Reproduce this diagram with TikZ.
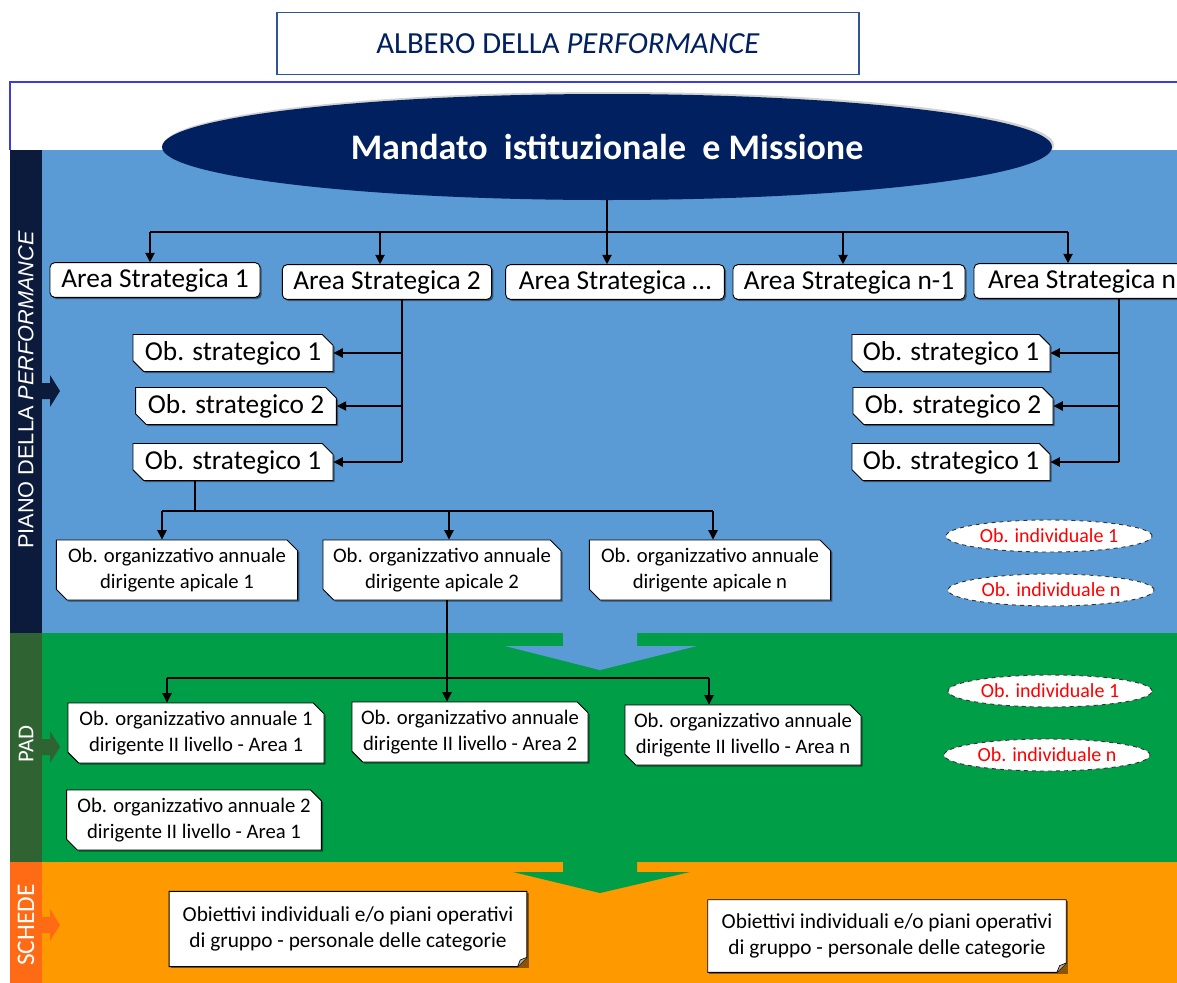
\documentclass[tikz,border=0pt]{standalone}
\usepackage{fontspec}
\setmainfont{Carlito}
\newfontfamily\sidefont{Liberation Sans}
\usetikzlibrary{shapes.misc,shapes.geometric,shadows,arrows.meta}
\definecolor{bandblue}{HTML}{5B9BD5}
\definecolor{bandgreen}{HTML}{009E47}
\definecolor{bandorange}{HTML}{FF9900}
\definecolor{sidenavy}{HTML}{0C1A3C}
\definecolor{sidegreen}{HTML}{2F6432}
\definecolor{sideorange}{HTML}{FF6A14}
\definecolor{navy}{HTML}{002060}
\definecolor{titleborder}{HTML}{2F5597}
\definecolor{framecol}{HTML}{3C3CE0}
\tikzset{
  shad/.style={drop shadow={shadow xshift=1.3pt,shadow yshift=-1.3pt,fill=black,opacity=0.45}},
  areabox/.style={draw=black,fill=white,rounded corners=3.5pt,line width=0.7pt,
    font=\fontsize{20.5}{23}\selectfont,minimum height=26pt,inner xsep=1pt,inner ysep=1pt,shad},
  obbox/.style={chamfered rectangle,chamfered rectangle corners={north east,south west},
    chamfered rectangle xsep=4pt,chamfered rectangle ysep=4pt,
    draw=black,fill=white,line width=0.7pt,font=\fontsize{20.5}{23}\selectfont,
    minimum height=27pt,inner xsep=1pt,inner ysep=1pt,shad},
  orgbox/.style={chamfered rectangle,chamfered rectangle corners={north east,south west},
    chamfered rectangle xsep=4pt,chamfered rectangle ysep=4pt,
    draw=black,fill=white,line width=0.7pt,font=\fontsize{15.5}{19.5}\selectfont,
    align=center,minimum height=45pt,inner xsep=1pt,inner ysep=1pt,shad},
  indiv/.style={ellipse,draw=black!80,dashed,fill=white,line width=0.7pt,
    text=red,font=\fontsize{15}{17}\selectfont,minimum height=24pt,inner sep=0pt},
  schedabox/.style={inner sep=0pt},
  schedatext/.style={align=center,font=\fontsize{16}{20}\selectfont},
  conn/.style={draw=black,line width=0.9pt},
  arr/.style={conn,-{Triangle[length=7pt,width=7pt]}},
  sidetxt/.style={rotate=90,text=white,font=\fontsize{17}{19}\selectfont}
}
\begin{document}
\begin{tikzpicture}[x=0.75pt,y=-0.75pt]
\clip (0,0) rectangle (1177,982);
\fill[white] (0,0) rectangle (1177,982);
% title
\node[draw=titleborder,line width=0.8pt,fill=white,minimum width=436.5pt,minimum height=47pt,
  text=navy,font=\fontsize{23}{26}\selectfont] (title) at (568,43.5) {ALBERO DELLA \textit{PERFORMANCE}};
% frame
\draw[framecol,line width=1pt] (10,150) -- (10,82) -- (1180,82);
% bands
\fill[bandblue] (42,150) rectangle (1180,633);
\fill[sidenavy] (10,150) rectangle (42,633);
\fill[bandgreen] (42,633) rectangle (1180,862);
\fill[sidegreen] (10,633) rectangle (42,862);
\fill[bandorange] (42,862) rectangle (1180,985);
\fill[sideorange] (10,862) rectangle (42,985);
% big chevrons
\fill[bandblue] (563,630) -- (637,630) -- (637,646) -- (697,646) -- (600,670) -- (505,646) -- (563,646) -- cycle;
\fill[bandgreen] (563,859) -- (637,859) -- (637,872) -- (690,872) -- (600,893) -- (513,872) -- (563,872) -- cycle;
% side arrows
\fill[sidenavy] (42,383) -- (50,383) -- (50,375) -- (60,391) -- (50,407) -- (50,399) -- (42,399) -- cycle;
\fill[sidegreen] (42,739) -- (50,739) -- (50,731) -- (60,747) -- (50,763) -- (50,755) -- (42,755) -- cycle;
\fill[sideorange] (42,917) -- (50,917) -- (50,909) -- (60,925) -- (50,941) -- (50,933) -- (42,933) -- cycle;
% side labels
\node[sidetxt,font=\sidefont\fontsize{16.3}{18}\selectfont] (lpiano) at (26,390) {PIANO DELLA \textit{PERFORMANCE}};
\node[sidetxt] (lpad) at (26,744) {PAD};
\node[sidetxt,font=\fontsize{19}{21}\selectfont] (lschede) at (26,925) {SCHEDE};
% ellipse
\node[ellipse,fill=navy,minimum width=667.5pt,minimum height=79.5pt,text=white,
  font=\bfseries\fontsize{27}{30}\selectfont,
  drop shadow={shadow xshift=1.5pt,shadow yshift=1.5pt,fill=gray,opacity=0.35}] (mand) at (607,147)
  {Mandato\ \ istituzionale\ \ e Missione};
% areas
\node[areabox,minimum width=157.5pt] (a1) at (155,280) {Area Strategica 1};
\node[areabox,minimum width=157pt] (a2) at (387,282) {Area Strategica 2};
\node[areabox,minimum width=164pt] (a3) at (615,282) {Area Strategica \dots};
\node[areabox,minimum width=174pt] (a4) at (849,282) {Area Strategica n-1};
\node[areabox,minimum width=162pt] (a5) at (1082,281) {Area Strategica n};
\coordinate (b1) at (150,232);
\coordinate (b2) at (380,232);
\coordinate (b3) at (607,232);
\coordinate (b4) at (843,232);
\coordinate (b5) at (1068,232);
\draw[conn] (mand.south) -- (b3);
\draw[conn] (b1) -- (b5);
\draw[arr] (b1) -- (b1 |- a1.north);
\draw[arr] (b2) -- (b2 |- a2.north);
\draw[arr] (b3) -- (b3 |- a3.north);
\draw[arr] (b4) -- (b4 |- a4.north);
\draw[arr] (b5) -- (b5 |- a5.north);
% strategic objectives left
\node[obbox,minimum width=150pt] (l1) at (233,353) {Ob. strategico 1};
\node[obbox,minimum width=150.5pt] (l2) at (236,406) {Ob. strategico 2};
\node[obbox,minimum width=150pt] (l3) at (233,462) {Ob. strategico 1};
\coordinate (lv) at (402,462);
\draw[conn] (a2.south -| lv) -- (lv);
\draw[arr] (lv |- l1) -- (l1.east);
\draw[arr] (lv |- l2) -- (l2.east);
\draw[arr] (lv) -- (l3.east);
% strategic objectives right
\node[obbox,minimum width=148.5pt] (r1) at (951,353) {Ob. strategico 1};
\node[obbox,minimum width=150pt] (r2) at (953,406) {Ob. strategico 2};
\node[obbox,minimum width=148.5pt] (r3) at (951,462) {Ob. strategico 1};
\coordinate (rv) at (1119,462);
\draw[conn] (a5.south -| rv) -- (rv);
\draw[arr] (rv |- r1) -- (r1.east);
\draw[arr] (rv |- r2) -- (r2.east);
\draw[arr] (rv) -- (r3.east);
% apical objectives
\node[orgbox,minimum width=181pt] (o1) at (177,570) {Ob. organizzativo annuale\\dirigente apicale 1};
\node[orgbox,minimum width=178.5pt] (o2) at (442,570) {Ob. organizzativo annuale\\dirigente apicale 2};
\node[orgbox,minimum width=181pt] (o3) at (710,570) {Ob. organizzativo annuale\\dirigente apicale n};
\coordinate (ob) at (195,511);
\coordinate (ob1) at (162,511);
\coordinate (ob2) at (449,511);
\coordinate (ob3) at (713,511);
\draw[conn] (l3.south -| ob) -- (ob);
\draw[conn] (ob1) -- (ob3);
\draw[arr] (ob1) -- (ob1 |- o1.north);
\draw[arr] (ob2) -- (ob2 |- o2.north);
\draw[arr] (ob3) -- (ob3 |- o3.north);
% PAD objectives
\node[orgbox,minimum width=192pt] (p1) at (196,733) {Ob. organizzativo annuale 1\\dirigente II livello - Area 1};
\node[orgbox,minimum width=177pt] (p2) at (470,732) {Ob. organizzativo annuale\\dirigente II livello - Area 2};
\node[orgbox,minimum width=177pt] (p3) at (743,735) {Ob. organizzativo annuale\\dirigente II livello - Area n};
\node[orgbox,minimum width=191pt] (p4) at (194,820) {Ob. organizzativo annuale 2\\dirigente II livello - Area 1};
\coordinate (pb1) at (167,678);
\coordinate (pb2) at (447,678);
\coordinate (pb3) at (709,678);
\draw[conn] (o2.south -| pb2) -- (pb2);
\draw[conn] (pb1) -- (pb3);
\draw[arr] (pb1) -- (pb1 |- p1.north);
\draw[arr] (pb2) -- (pb2 |- p2.north);
\draw[arr] (pb3) -- (pb3 |- p3.north);
% individual objectives
\node[indiv,minimum width=154.5pt] (e1) at (1049,536) {Ob. individuale 1};
\node[indiv,minimum width=154.5pt] (e2) at (1051,590) {Ob. individuale n};
\node[indiv,minimum width=153pt] (e3) at (1050,691) {Ob. individuale 1};
\node[indiv,minimum width=154.5pt] (e4) at (1047,755) {Ob. individuale n};
% schede
\node[schedabox,minimum width=268pt,minimum height=56pt] (s1) at (348,929) {};
\node[schedabox,minimum width=268.5pt,minimum height=54pt] (s2) at (887,936) {};
\foreach \s in {s1,s2}{
  \fill[black,opacity=0.45] ([shift={(1.3pt,-1.3pt)}]\s.north west) -- ([shift={(1.3pt,-1.3pt)}]\s.north east)
    -- ([shift={(1.3pt,-1.3pt)}]\s.south east) -- ([shift={(1.3pt,-1.3pt)}]\s.south west) -- cycle;
  \fill[white] (\s.north west) -- (\s.north east) -- ([yshift=7pt]\s.south east)
    -- ([xshift=-7pt]\s.south east) -- (\s.south west) -- cycle;
  \draw[black,line width=0.7pt] (\s.north west) -- (\s.north east) -- ([yshift=7pt]\s.south east)
    -- ([xshift=-7pt]\s.south east) -- (\s.south west) -- cycle;
  \filldraw[fill=gray!60,draw=black,line width=0.5pt] ([yshift=7pt]\s.south east)
    -- ([xshift=-5pt,yshift=5pt]\s.south east) -- ([xshift=-7pt]\s.south east);
}
\node[schedatext] (s1t) at (s1) {Obiettivi individuali e/o piani operativi\\di gruppo - personale delle categorie};
\node[schedatext] (s2t) at (s2) {Obiettivi individuali e/o piani operativi\\di gruppo - personale delle categorie};
\end{tikzpicture}
\end{document}
